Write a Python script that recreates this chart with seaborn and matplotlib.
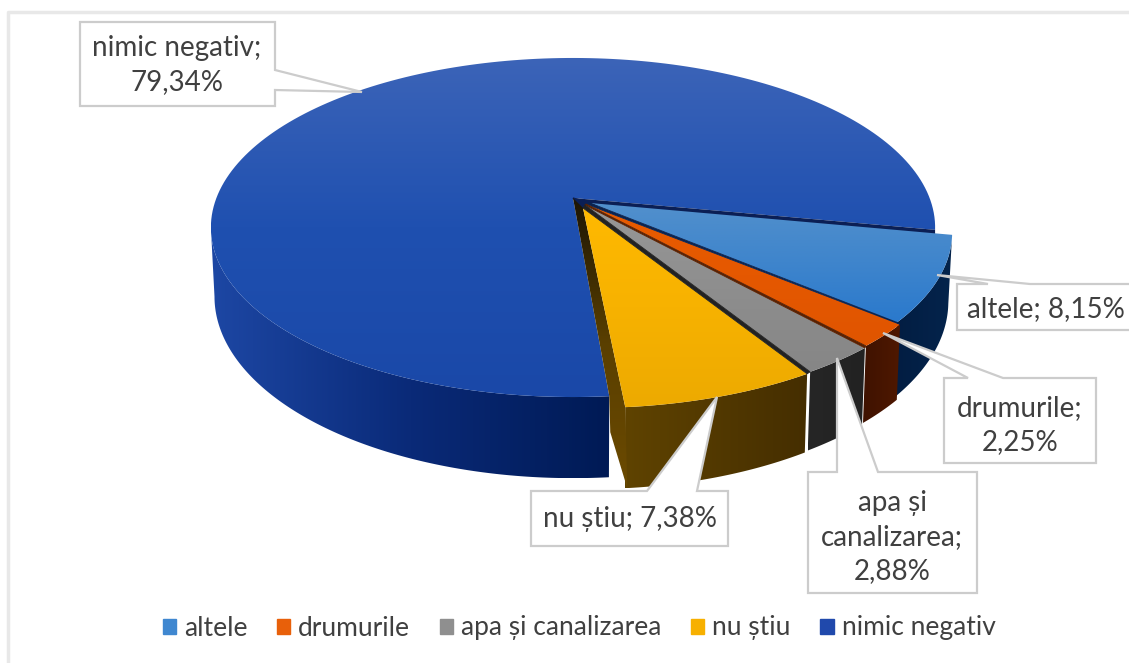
import numpy as np
import seaborn as sns
import matplotlib.pyplot as plt
from matplotlib.colors import LinearSegmentedColormap
from matplotlib.patches import Patch, Polygon

# values of the chart, in drawing order (clockwise from the right)
categories = ["altele", "drumurile", "apa și canalizarea", "nu știu", "nimic negativ"]
values = [8.15, 2.25, 2.88, 7.38, 79.34]
label_texts = [
    "altele; 8,15%",
    "drumurile;\n2,25%",
    "apa și\ncanalizarea;\n2,88%",
    "nu știu; 7,38%",
    "nimic negativ;\n79,34%",
]
legend_colors = ["#3f87d0", "#e8600a", "#8f8f8f", "#f7b000", "#2049ac"]

# top face gradient (upper to lower) and side colours (left to right)
top_colors = [
    ("#5290cc", "#3f85cc", "#2a79cc"),
    ("#e85c00", "#e55800", "#e05500"),
    ("#979797", "#8e8e8e", "#868686"),
    ("#ffb900", "#f7b200", "#edaa00"),
    ("#3c64b8", "#1f50b0", "#1a48a8"),
]
side_colors = [
    ("#021d42", "#04244c"),
    ("#3f1200", "#4f1800"),
    ("#262626", "#222222"),
    ("#5f4300", "#452e00"),
    ("#1d47a4", "#0a2a78", "#001a55"),
]
seam_colors = ["#0a2350", "#5a2000", "#222222"]

# projection of the tilted disc, in pixels
CX, CY = 573, 198
RX, RY = 356.6, 164.4
PERSP = 0.174
DEPTH = 67
START = -10.8
BOTTOM_SCALE = 0.99
# shift of each slice rim away from the centre, and where its point ends up
shifts = [(17, 5), (20, 7), (19, 9), (16, 11), (0, 0)]
tips = [(17, 5), (13, 6), (12, 7), (10, 10), (0, 0)]


def rim(theta, shift):
    t = np.radians(theta)
    w = 1 + PERSP * np.sin(t)
    x = CX + shift[0] + RX * np.cos(t) / w
    y = CY + shift[1] - RY * np.sin(t) / w
    return x, y, DEPTH / w


def tip(offset):
    return CX + offset[0], CY + offset[1]


def shaded(ax, px, py, colors, zorder, horizontal=False):
    # polygon filled with a linear gradient
    cmap = LinearSegmentedColormap.from_list("face", colors)
    grad = np.linspace(0, 1, 256)
    grad = grad.reshape(1, -1) if horizontal else grad.reshape(-1, 1)
    im = ax.imshow(
        grad,
        cmap=cmap,
        extent=(min(px), max(px), max(py), min(py)),
        aspect="auto",
        zorder=zorder,
    )
    patch = Polygon(np.c_[px, py], closed=True, fc="none", ec="none", zorder=zorder)
    ax.add_patch(patch)
    im.set_clip_path(patch)


def draw_side(ax, t0, t1, shift, colors, zorder):
    ts = np.linspace(t0, t1, 200)
    x, y, d = rim(ts, shift)
    xb = CX + (x - CX) * BOTTOM_SCALE
    px = np.r_[x, xb[::-1]]
    py = np.r_[y, (y + d)[::-1]]
    shaded(ax, px, py, colors, zorder, horizontal=True)


def draw_top(ax, t0, t1, i, colors, zorder):
    ts = np.linspace(t0, t1, 200)
    x, y, _ = rim(ts, shifts[i])
    tx, ty = tip(tips[i])
    shaded(ax, np.r_[tx, x], np.r_[ty, y], colors, zorder)


def callout(ax, outline, text, center, size):
    ax.add_patch(
        Polygon(outline, closed=True, fc="white", ec="#cccccc", lw=1.6, zorder=20)
    )
    ax.text(
        center[0], center[1], text, ha="center", va="center", fontsize=size,
        color="#404040", linespacing=1.4, zorder=21,
    )


sns.set_theme(style="white")
plt.rcParams["font.family"] = ["Lato", "DejaVu Sans"]

fig = plt.figure(figsize=(11.29, 6.63), dpi=100)
ax = fig.add_axes([0, 0, 1, 1])

# slice limits from the values
edges = [START]
for v in values:
    edges.append(edges[-1] - v * 3.6)

# blue slice first, it sits behind the others
blue_end = edges[4] + 360
draw_side(ax, 190, blue_end, shifts[4], side_colors[4], 2)
draw_top(ax, edges[4], edges[5], 4, top_colors[4], 3)

# cut wall of the blue slice, under the upper edge of the light blue one
xa, ya, _ = rim(edges[0], shifts[4])
ax.fill(
    [CX, xa, xa, CX + 17],
    [CY, ya, ya + 5, CY + 7],
    color="#0b1f55", lw=0, zorder=4,
)

# dark patch where the slice points meet
hub = [tip(t) for t in tips]
ax.fill([p[0] for p in hub], [p[1] for p in hub], color="#0b1f55", lw=1, zorder=4)

# small slices, outer walls
for i in range(4):
    draw_side(ax, edges[i], edges[i + 1], shifts[i], side_colors[i], 5)

# wall of the yellow slice, from the blue rim to the yellow rim
xb, yb, _ = rim(edges[4], shifts[4])
xe, ye, de = rim(edges[4], shifts[3])
sx, sy = tip(tips[3])
shaded(
    ax,
    [CX, sx, xe, xe + 2, xb + 1, xb],
    [CY, sy, ye, ye + de, ye + 25, yb],
    ("#1c1505", "#5a3f00", "#6b4a00"),
    6,
)

for i in range(4):
    draw_top(ax, edges[i], edges[i + 1], i, top_colors[i], 7)

# dark seams between the slices
for i, col in zip(range(1, 4), seam_colors):
    x0, y0, _ = rim(edges[i], shifts[i - 1])
    x1, y1, _ = rim(edges[i], shifts[i])
    t0, t1 = tip(tips[i - 1]), tip(tips[i])
    ax.fill([t0[0], x0, x1, t1[0]], [t0[1], y0, y1, t1[1]], color=col, lw=0.6, zorder=8)

# callouts
box_size = 20
callout(
    ax,
    [(80, 22), (275, 22), (275, 70), (362, 92), (275, 90), (275, 106), (80, 106)],
    label_texts[4], (177, 65), box_size,
)
callout(
    ax,
    [(957, 284), (988, 284), (937, 275), (1030, 284), (1140, 284), (1140, 330), (957, 330)],
    label_texts[0], (1046, 309), box_size,
)
callout(
    ax,
    [(944, 378), (968, 378), (883, 333), (1003, 378), (1096, 378), (1096, 463), (944, 463)],
    label_texts[1], (1020, 425), box_size,
)
callout(
    ax,
    [(808, 472), (837, 472), (837, 358), (878, 472), (977, 472), (977, 593), (808, 593)],
    label_texts[2], (892, 537), box_size,
)
callout(
    ax,
    [(531, 491), (647, 491), (717, 397), (697, 491), (728, 491), (728, 546), (531, 546)],
    label_texts[3], (630, 519), box_size,
)

handles = [Patch(color=c, label=n) for c, n in zip(legend_colors, categories)]
ax.legend(
    handles=handles, ncol=5, loc="center", bbox_to_anchor=(579 / 1129, 1 - 628 / 663),
    frameon=False, fontsize=19, handlelength=0.5, handleheight=0.5,
    handletextpad=0.3, columnspacing=1.13, labelcolor="#404040",
)

# chart frame, no line on the right or at the bottom
ax.plot([8, 8, 1129], [663, 12, 12], color="#e8e8e8", lw=2.5, zorder=1)

ax.set_xlim(0, 1129)
ax.set_ylim(663, 0)
ax.axis("off")

fig.savefig("out.png", dpi=100, facecolor="white")
